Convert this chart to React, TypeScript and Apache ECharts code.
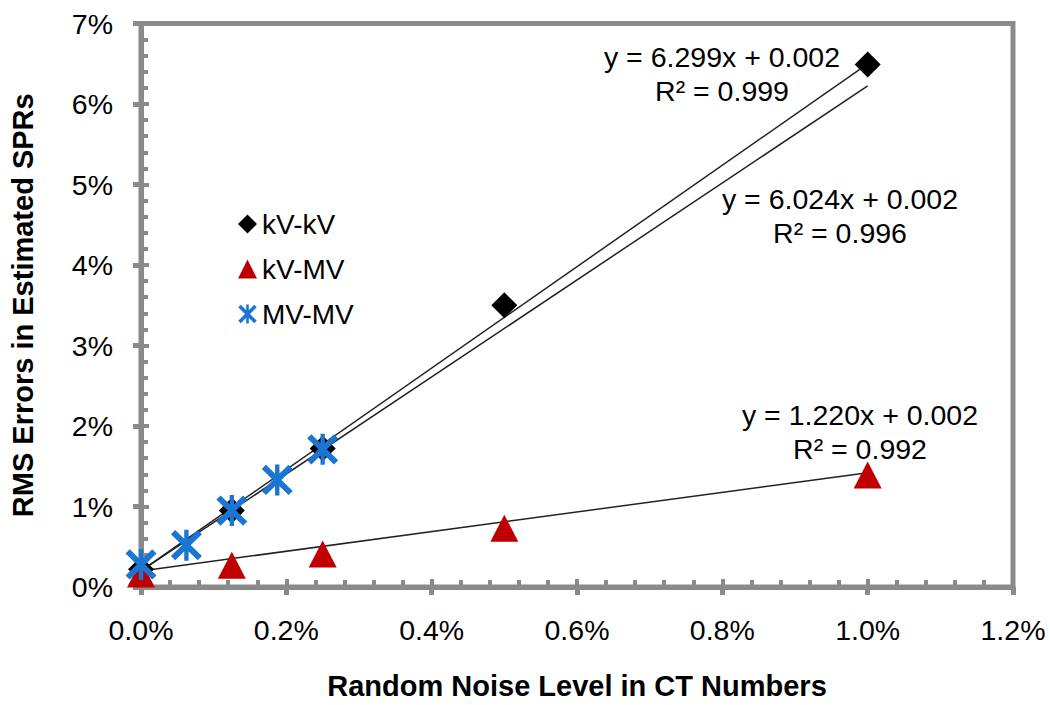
import React, { useEffect, useRef } from "react";
import * as echarts from "echarts";

// Data (values in percent)
const kvkvX = [0, 0.125, 0.25, 0.5, 1.0];
const kvkvY = [0.22, 0.95, 1.72, 3.5, 6.49];
const kvmvX = [0, 0.125, 0.25, 0.5, 1.0];
const kvmvY = [0.16, 0.27, 0.41, 0.73, 1.39];
const mvmvX = [0, 0.0625, 0.125, 0.1875, 0.25];
const mvmvY = [0.28, 0.52, 0.95, 1.33, 1.71];

// Trendlines (slope, intercept in fraction units) and x-range in percent
const trendNames = ["kV-kV fit", "MV-MV fit", "kV-MV fit"];
const trendSlopes = [6.299, 6.024, 1.22];
const trendIntercepts = [0.002, 0.002, 0.002];
const trendXStart = [0, 0, 0];
const trendXEnd = [1.0, 1.0, 1.0];
const trendLabels = [
  ["y = 6.299x + 0.002", "R\u00b2 = 0.999"],
  ["y = 6.024x + 0.002", "R\u00b2 = 0.996"],
  ["y = 1.220x + 0.002", "R\u00b2 = 0.992"],
];

const xMin = 0, xMax = 1.2, xInterval = 0.2;
const yMin = 0, yMax = 7, yInterval = 1;

const FONT = "'Liberation Sans', Arial, sans-serif";
const GRAY = "#8a8a8a";
const STAR =
  "path://M3.27,0.73L19.27,16.73L16.73,19.27L0.73,3.27Z M19.27,3.27L3.27,19.27L0.73,16.73L16.73,0.73Z M8.7,0.5L11.3,0.5L11.3,19.5L8.7,19.5Z";

const zip = (xs: number[], ys: number[]) => xs.map((x, i) => [x, ys[i]]);

export default function App() {
  const ref = useRef<HTMLDivElement>(null);
  useEffect(() => {
    if (!ref.current) return;
    const chart = echarts.init(ref.current, null, { renderer: "svg" });

    const trendSeries = trendNames.map((n, i) => ({
      name: n,
      type: "line",
      xAxisIndex: 0,
      yAxisIndex: 0,
      symbol: "none",
      silent: true,
      z: 1,
      lineStyle: { color: "#222", width: 1.5 },
      data: [trendXStart[i], trendXEnd[i]].map((x) => [
        x,
        (trendSlopes[i] * (x / 100) + trendIntercepts[i]) * 100,
      ]),
    }));

    const annPos = [
      [722, 57],
      [840, 199],
      [860, 415],
    ];
    const graphics: any[] = [];
    trendLabels.forEach((lines, i) => {
      lines.forEach((t, j) => {
        graphics.push({
          type: "text",
          x: annPos[i][0],
          y: annPos[i][1] + j * 34,
          style: {
            text: t,
            font: `28.5px ${FONT}`,
            fill: "#000",
            textAlign: "center",
            textVerticalAlign: "middle",
          },
        });
      });
    });

    const baseAxisLabel = { fontSize: 28.5, fontFamily: FONT, color: "#000" };

    chart.setOption({
      animation: false,
      backgroundColor: "#fff",
      grid: {
        left: 138,
        right: 37,
        top: 23.5,
        bottom: 116,
        show: true,
        borderColor: GRAY,
        borderWidth: 5,
        backgroundColor: "transparent",
      },
      legend: {
        orient: "vertical",
        left: 233,
        top: 205,
        data: ["kV-kV", "kV-MV", "MV-MV"],
        itemWidth: 19,
        itemHeight: 19,
        itemGap: 17,
        textStyle: { fontSize: 28, fontFamily: FONT, color: "#000", lineHeight: 28 },
      },
      xAxis: [
        {
          type: "value",
          min: xMin,
          max: xMax,
          interval: xInterval,
          position: "bottom",
          axisLine: { show: true, lineStyle: { color: GRAY, width: 5 } },
          axisTick: { show: true, inside: false, length: 8, lineStyle: { color: GRAY, width: 5 } },
          splitLine: { show: false },
          axisLabel: { ...baseAxisLabel, margin: 28, formatter: (v: number) => v.toFixed(1) + "%" },
          name: "Random Noise Level in CT Numbers",
          nameLocation: "middle",
          nameGap: 84,
          nameTextStyle: { fontSize: 29, fontWeight: "bold", fontFamily: FONT, color: "#000" },
        },
        {
          type: "value",
          min: xMin,
          max: xMax,
          interval: xInterval,
          position: "bottom",
          axisLine: { show: false },
          axisTick: { show: true, inside: true, length: 8, lineStyle: { color: GRAY, width: 4 } },
          minorTick: { show: true, splitNumber: 5, length: 7, lineStyle: { color: GRAY, width: 4 } },
          splitLine: { show: false },
          axisLabel: { show: false },
        },
      ],
      yAxis: [
        {
          type: "value",
          min: yMin,
          max: yMax,
          interval: yInterval,
          position: "left",
          axisLine: { show: true, lineStyle: { color: GRAY, width: 5 } },
          axisTick: { show: true, inside: false, length: 8, lineStyle: { color: GRAY, width: 5 } },
          splitLine: { show: false },
          axisLabel: { ...baseAxisLabel, margin: 28, formatter: (v: number) => v + "%" },
          name: "RMS Errors in Estimated SPRs",
          nameLocation: "middle",
          nameGap: 104,
          nameTextStyle: { fontSize: 29, fontWeight: "bold", fontFamily: FONT, color: "#000" },
        },
        {
          type: "value",
          min: yMin,
          max: yMax,
          interval: yInterval,
          position: "left",
          axisLine: { show: false },
          axisTick: { show: true, inside: true, length: 8, lineStyle: { color: GRAY, width: 4 } },
          minorTick: { show: true, splitNumber: 5, length: 7, lineStyle: { color: GRAY, width: 4 } },
          splitLine: { show: false },
          axisLabel: { show: false },
        },
      ],
      series: [
        ...trendSeries,
        {
          name: "kV-kV",
          type: "scatter",
          symbol: "diamond",
          symbolSize: [26, 26],
          itemStyle: { color: "#000", opacity: 1 },
          z: 3,
          data: zip(kvkvX, kvkvY),
        },
        {
          name: "kV-MV",
          type: "scatter",
          symbol: "triangle",
          symbolSize: [28, 27],
          itemStyle: { color: "#c00000", opacity: 1 },
          z: 3,
          data: zip(kvmvX, kvmvY),
        },
        {
          name: "MV-MV",
          type: "scatter",
          symbol: STAR,
          symbolSize: 31,
          itemStyle: { color: "#1a76d2", opacity: 1 },
          z: 4,
          data: zip(mvmvX, mvmvY),
        },
      ],
      graphic: graphics,
    });
    return () => chart.dispose();
  }, []);
  return (
    <div
      ref={ref}
      style={{ position: "fixed", left: 0, top: 0, width: 1050, height: 705 }}
    />
  );
}
